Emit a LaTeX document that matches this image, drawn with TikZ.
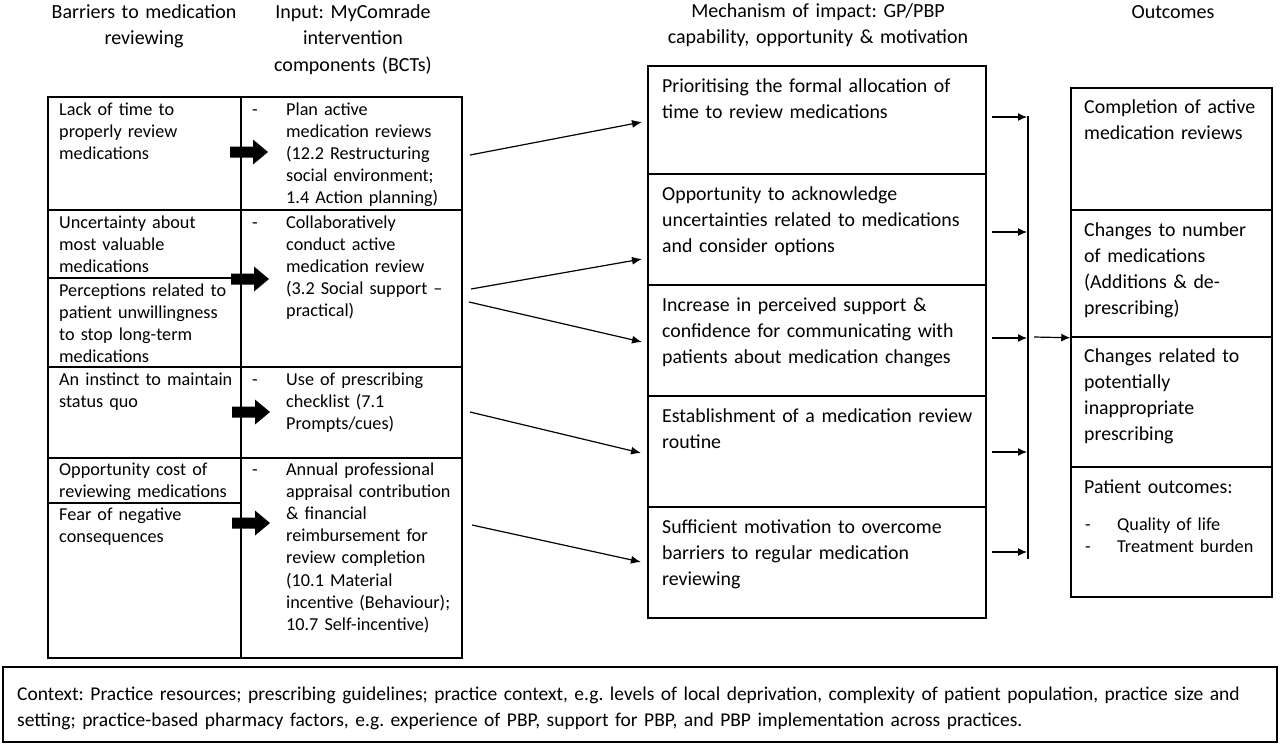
\documentclass[tikz,border=0pt]{standalone}
\usepackage{fontspec}
\setmainfont{Carlito}
\frenchspacing
\usetikzlibrary{arrows.meta,fit}
\begin{document}
\begin{tikzpicture}[x=1pt,y=-1pt,
  cell/.style={draw=black,line width=1.5pt,inner sep=0pt},
  ttxt/.style={anchor=base west,inner sep=0pt,align=left,text width=260pt,font=\frenchspacing\fontsize{18.2}{22.2}\selectfont},
  mtxt/.style={anchor=base west,inner sep=0pt,align=left,text width=330pt,font=\frenchspacing\fontsize{19.85}{26.3}\selectfont},
  htxt/.style={anchor=base,inner sep=0pt,align=center,text width=330pt,font=\frenchspacing\fontsize{20}{26}\selectfont},
  thinarr/.style={line width=1.2pt,-{Latex[length=10pt,width=8pt]}},
  sarr/.style={line width=1.2pt,-{Latex[length=9pt,width=8pt]}},
  barrow/.pic={\fill[black] (-19,-5.5) -- (4,-5.5) -- (4,-12.5) -- (19,0) -- (4,12.5) -- (4,5.5) -- (-19,5.5) -- cycle;}
]
\useasboundingbox[fill=white] (0,0) rectangle (1280,745);

% headers
\node[htxt] (h1) at (144,18) {Barriers to medication\\reviewing};
\node[htxt,font=\frenchspacing\fontsize{20}{26.5}\selectfont] (h2) at (353,18) {Input: MyComrade\\intervention\\components (BCTs)};
\node[htxt] (h3) at (818,17) {Mechanism of impact: GP/PBP\\capability, opportunity \& motivation};
\node[htxt] (h4) at (1173,18) {Outcomes};

% left table: barriers
\node[cell,fit={(48,97)(241,210)}] (b1) {};
\node[cell,fit={(48,210)(241,278)}] (b2) {};
\node[cell,fit={(48,278)(241,367)}] (b3) {};
\node[cell,fit={(48,367)(241,458)}] (b4) {};
\node[cell,fit={(48,458)(241,503)}] (b5) {};
\node[cell,fit={(48,503)(241,658)}] (b6) {};
% left table: inputs
\node[cell,fit={(241,97)(462,210)}] (i1) {};
\node[cell,fit={(241,210)(462,367)}] (i2) {};
\node[cell,fit={(241,367)(462,458)}] (i3) {};
\node[cell,fit={(241,458)(462,658)}] (i4) {};

\node[ttxt] (tb1) at (59,115) {Lack of time to\\properly review\\medications};
\node[ttxt] (tb2) at (59,228) {Uncertainty about\\most valuable\\medications};
\node[ttxt] (tb3) at (59,296) {Perceptions related to\\patient unwillingness\\to stop long-term\\medications};
\node[ttxt] (tb4) at (59,385) {An instinct to maintain\\status quo};
\node[ttxt] (tb5) at (59,475) {Opportunity cost of\\reviewing medications};
\node[ttxt] (tb6) at (59,520) {Fear of negative\\consequences};

\node[ttxt,text width=10pt] (d1) at (252,115) {-};
\node[ttxt,text width=10pt] (d2) at (252,228) {-};
\node[ttxt,text width=10pt] (d3) at (252,385) {-};
\node[ttxt,text width=10pt] (d4) at (252,475) {-};
\node[ttxt] (ti1) at (286,115) {Plan active\\medication reviews\\(12.2 Restructuring\\social environment;\\1.4 Action planning)};
\node[ttxt] (ti2) at (286,228) {Collaboratively\\conduct active\\medication review\\(3.2 Social support –\\practical)};
\node[ttxt] (ti3) at (286,385) {Use of prescribing\\checklist (7.1\\Prompts/cues)};
\node[ttxt] (ti4) at (286,475) {Annual professional\\appraisal contribution\\\& financial\\reimbursement for\\review completion\\(10.1 Material\\incentive (Behaviour);\\10.7 Self-incentive)};

% block arrows
\pic at (249,152) {barrow};
\pic at (250,279) {barrow};
\pic at (251,412) {barrow};
\pic at (251,523) {barrow};

% mechanism boxes
\node[cell,fit={(648,66)(986,174)}] (m1) {};
\node[cell,fit={(648,174)(986,285)}] (m2) {};
\node[cell,fit={(648,285)(986,396)}] (m3) {};
\node[cell,fit={(648,396)(986,507)}] (m4) {};
\node[cell,fit={(648,507)(986,618)}] (m5) {};
\node[mtxt] (tm1) at (662,92) {Prioritising the formal allocation of\\time to review medications};
\node[mtxt] (tm2) at (662,200) {Opportunity to acknowledge\\uncertainties related to medications\\and consider options};
\node[mtxt] (tm3) at (662,311) {Increase in perceived support \&\\confidence for communicating with\\patients about medication changes};
\node[mtxt] (tm4) at (662,422) {Establishment of a medication review\\routine};
\node[mtxt] (tm5) at (662,533) {Sufficient motivation to overcome\\barriers to regular medication\\reviewing};

% thin arrows input -> mechanism
\coordinate (s1) at (470,155); \coordinate (e1) at (642,122);
\coordinate (s2) at (471,289); \coordinate (e2) at (642,259);
\coordinate (s3) at (469,302); \coordinate (e3) at (642,342);
\coordinate (s4) at (470,412); \coordinate (e4) at (641,453);
\coordinate (s5) at (472,525); \coordinate (e5) at (641,562);
\draw[thinarr] (s1) -- (e1);
\draw[thinarr] (s2) -- (e2);
\draw[thinarr] (s3) -- (e3);
\draw[thinarr] (s4) -- (e4);
\draw[thinarr] (s5) -- (e5);

% outcome boxes
\node[cell,fit={(1071,88)(1272,210)}] (o1) {};
\node[cell,fit={(1071,210)(1272,337)}] (o2) {};
\node[cell,fit={(1071,337)(1272,467)}] (o3) {};
\node[cell,fit={(1071,467)(1272,597)}] (o4) {};
\node[mtxt] (to1) at (1084,113) {Completion of active\\medication reviews};
\node[mtxt] (to2) at (1084,236) {Changes to number\\of medications\\(Additions \& de-\\prescribing)};
\node[mtxt] (to3) at (1084,362) {Changes related to\\potentially\\inappropriate\\prescribing};
\node[mtxt] (to4) at (1084,493) {Patient outcomes:};
\node[ttxt] (to5) at (1085,530) {\makebox[32pt][l]{-}Quality of life\\\makebox[32pt][l]{-}Treatment burden};

% collector bar and arrows
\coordinate (bt) at (1028,116); \coordinate (bb) at (1028,559);
\draw[line width=1.5pt] (bt) -- (bb);
\coordinate (r1) at (992,117); \coordinate (q1) at (1027,117);
\coordinate (r2) at (992,232); \coordinate (q2) at (1027,232);
\coordinate (r3) at (992,338); \coordinate (q3) at (1027,338);
\coordinate (r4) at (992,452); \coordinate (q4) at (1027,452);
\coordinate (r5) at (992,552); \coordinate (q5) at (1027,552);
\draw[sarr] (r1) -- (q1);
\draw[sarr] (r2) -- (q2);
\draw[sarr] (r3) -- (q3);
\draw[sarr] (r4) -- (q4);
\draw[sarr] (r5) -- (q5);
\coordinate (os) at (1034,337);
\draw[sarr] (os) -- (o2.south west);

% context box
\node[cell,fit={(3,667)(1277,742)}] (ctx) {};
\node[mtxt,text width=1262pt,font=\frenchspacing\fontsize{19.5}{26}\selectfont] (tctx) at (17,700) {Context: Practice resources; prescribing guidelines; practice context, e.g. levels of local deprivation, complexity of patient population, practice size and\\setting; practice-based pharmacy factors, e.g. experience of PBP, support for PBP, and PBP implementation across practices.};
\end{tikzpicture}
\end{document}
